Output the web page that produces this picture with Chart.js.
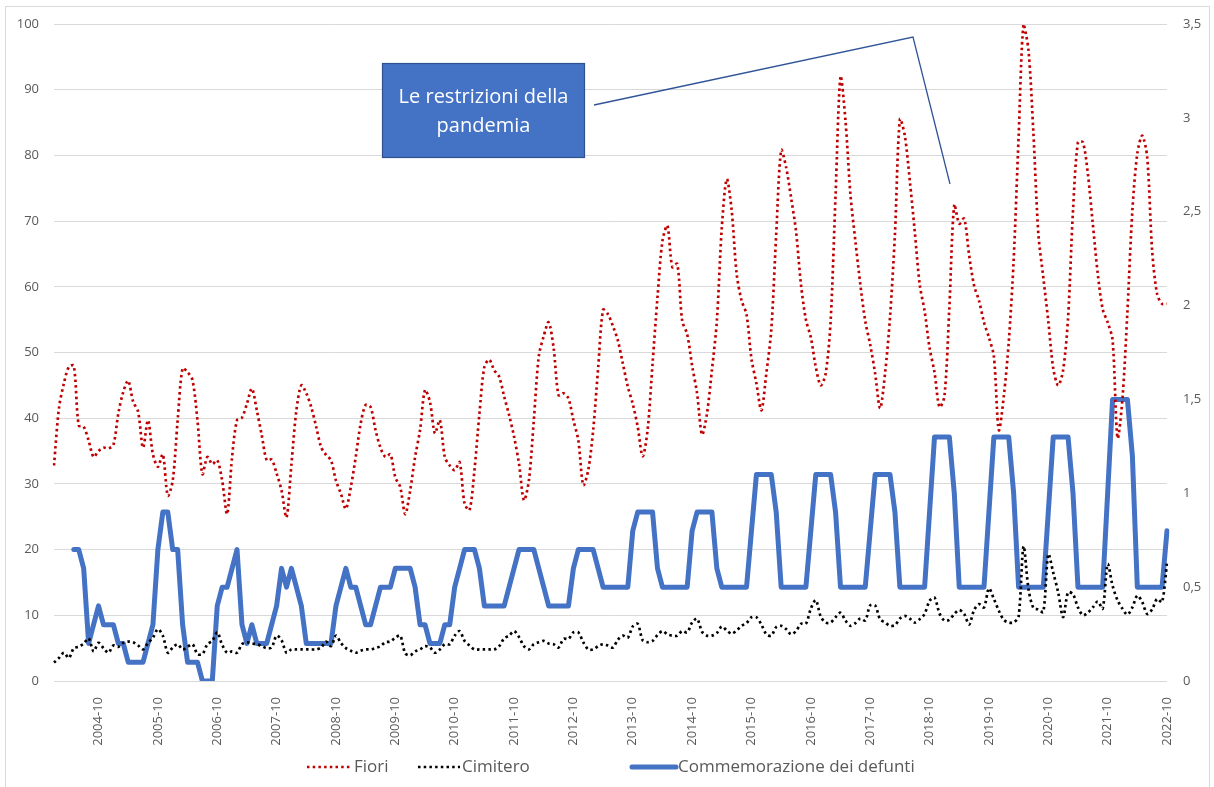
<!DOCTYPE html>
<html>
<head>
<meta charset="utf-8">
<script src="https://cdn.jsdelivr.net/npm/chart.js@4.4.0/dist/chart.umd.min.js"></script>
<style>
  html, body { margin: 0; padding: 0; background: #fff; }
  #wrap { width: 1214px; height: 787px; }
</style>
</head>
<body>
<div id="wrap"><canvas id="chart" width="1214" height="787"></canvas></div>
<script>
// months from 2004-01 to 2022-10
const months = [];
for (let y = 2004; y <= 2022; y++) {
    for (let m = 1; m <= 12; m++) {
        if (y === 2022 && m > 10) break;
        months.push(y + '-' + String(m).padStart(2, '0'));
    }
}

const tickLabels = ['2004-10', '2005-10', '2006-10', '2007-10', '2008-10', '2009-10', '2010-10',
    '2011-10', '2012-10', '2013-10', '2014-10', '2015-10', '2016-10', '2017-10', '2018-10',
    '2019-10', '2020-10', '2021-10', '2022-10'];

const fiori = [
    32.8, 41.5, 45.3, 47.8, 48.0, 38.9, 38.7, 36.6, 34.1, 35.0, 35.5, 35.4,
    35.9, 40.7, 44.0, 45.7, 42.5, 41.0, 35.5, 39.7, 34.5, 32.6, 34.5, 28.2,
    30.5, 39.7, 47.6, 47.0, 45.8, 39.7, 31.5, 34.1, 33.0, 33.6, 30.5, 25.4,
    34.1, 39.7, 40.1, 42.2, 44.5, 41.2, 37.4, 33.6, 33.7, 31.6, 29.0, 24.9,
    33.0, 41.2, 45.0, 43.8, 41.7, 38.7, 35.6, 34.4, 33.6, 30.5, 28.5, 26.2,
    29.5, 34.1, 39.2, 42.0, 41.7, 38.2, 35.5, 34.1, 34.5, 31.0, 29.5, 25.4,
    29.0, 34.1, 38.2, 44.3, 42.5, 37.7, 39.7, 34.1, 32.8, 32.1, 33.3, 27.0,
    26.0, 32.1, 40.7, 47.8, 48.9, 47.3, 46.3, 43.3, 40.5, 37.2, 33.1, 27.5,
    30.5, 39.7, 49.4, 52.5, 54.6, 50.7, 43.5, 43.8, 43.0, 39.7, 36.6, 29.8,
    32.1, 38.2, 47.6, 56.5, 55.8, 54.0, 51.8, 48.3, 44.8, 42.2, 38.7, 34.2,
    38.2, 48.3, 58.4, 67.0, 69.3, 63.0, 63.5, 54.8, 52.8, 48.0, 43.8, 37.5,
    40.7, 47.3, 54.8, 69.0, 76.4, 71.6, 62.0, 57.9, 55.8, 49.0, 45.3, 41.2,
    46.8, 53.4, 68.0, 80.8, 78.2, 73.6, 68.5, 60.4, 55.0, 52.3, 47.8, 45.0,
    46.8, 54.8, 74.0, 92.0, 85.3, 74.1, 67.0, 60.4, 54.8, 51.2, 46.8, 41.5,
    46.8, 55.3, 68.0, 85.5, 83.0, 76.2, 68.5, 60.4, 56.3, 50.7, 47.0, 41.7,
    43.3, 56.8, 72.5, 69.6, 70.4, 64.8, 60.2, 57.9, 54.6, 52.3, 49.4, 38.2,
    43.3, 51.5, 64.0, 82.8, 100, 96.0, 83.3, 68.0, 61.4, 54.8, 47.6, 45.0,
    47.3, 55.3, 71.6, 82.0, 82.0, 77.2, 69.6, 62.0, 56.6, 54.6, 51.9, 37.0,
    43.0, 56.3, 71.6, 80.3, 83.0, 79.7, 65.5, 58.9, 57.4, 57.4
];

const cimitero = [
    2.8, 3.5, 4.3, 3.5, 5.0, 5.2, 5.7, 6.5, 4.5, 5.8, 5.0, 4.3,
    5.4, 5.2, 5.8, 6.0, 5.9, 5.4, 4.8, 5.8, 6.6, 7.9, 6.9, 4.3,
    5.1, 5.6, 4.8, 5.2, 5.6, 4.1, 4.1, 5.6, 6.1, 7.4, 5.5, 4.3,
    4.5, 4.3, 5.6, 5.9, 5.7, 5.6, 5.3, 5.0, 5.1, 6.9, 6.2, 4.3,
    4.8, 4.8, 4.8, 4.8, 4.8, 4.8, 5.1, 6.0, 5.3, 6.9, 5.8, 5.0,
    4.6, 4.3, 4.6, 4.8, 4.8, 5.0, 5.3, 5.9, 6.0, 6.6, 6.9, 4.2,
    3.9, 4.5, 4.8, 5.3, 5.1, 4.3, 4.8, 5.6, 5.6, 6.9, 7.6, 6.1,
    5.4, 4.8, 4.8, 4.8, 4.8, 4.8, 5.3, 6.5, 6.9, 7.6, 6.7, 5.3,
    4.8, 5.6, 5.9, 6.1, 5.7, 5.6, 5.1, 6.4, 6.4, 7.4, 7.4, 5.9,
    4.8, 4.8, 5.3, 5.6, 5.4, 5.1, 6.3, 6.9, 6.6, 8.3, 8.7, 6.2,
    5.9, 6.1, 7.0, 7.6, 7.1, 6.9, 6.9, 7.6, 7.4, 8.9, 9.5, 7.5,
    6.9, 6.9, 7.3, 8.3, 7.7, 7.2, 7.7, 8.4, 8.8, 9.7, 9.7, 8.6,
    7.1, 6.9, 8.2, 8.4, 7.9, 7.1, 7.6, 8.7, 8.7, 11.0, 12.3, 9.8,
    8.9, 8.9, 9.7, 10.4, 9.2, 8.4, 8.8, 9.5, 9.2, 11.5, 11.5, 9.4,
    8.9, 8.4, 8.5, 9.5, 9.9, 9.5, 8.9, 9.4, 10.2, 12.2, 12.7, 10.3,
    9.2, 9.3, 10.2, 10.8, 10.2, 8.6, 10.8, 11.7, 11.2, 14.1, 12.5, 10.7,
    9.3, 8.9, 8.9, 9.8, 20.5, 14.0, 11.1, 10.9, 10.5, 19.3, 16.5, 13.5,
    9.7, 13.5, 13.2, 11.2, 10.0, 10.4, 11.2, 12.1, 11.0, 17.8, 14.5, 12.3,
    11.0, 10.1, 11.2, 13.0, 12.0, 10.2, 10.9, 12.5, 12.0, 18.0
];

// right axis
const commemorazione = [
    null, null, null, null, 0.7, 0.7, 0.6, 0.2, 0.3, 0.4, 0.3, 0.3,
    0.3, 0.2, 0.2, 0.1, 0.1, 0.1, 0.1, 0.2, 0.3, 0.7, 0.9, 0.9,
    0.7, 0.7, 0.3, 0.1, 0.1, 0.1, 0, 0, 0, 0.4, 0.5, 0.5,
    0.6, 0.7, 0.3, 0.2, 0.3, 0.2, 0.2, 0.2, 0.3, 0.4, 0.6, 0.5,
    0.6, 0.5, 0.4, 0.2, 0.2, 0.2, 0.2, 0.2, 0.2, 0.4, 0.5, 0.6,
    0.5, 0.5, 0.4, 0.3, 0.3, 0.4, 0.5, 0.5, 0.5, 0.6, 0.6, 0.6,
    0.6, 0.5, 0.3, 0.3, 0.2, 0.2, 0.2, 0.3, 0.3, 0.5, 0.6, 0.7,
    0.7, 0.7, 0.6, 0.4, 0.4, 0.4, 0.4, 0.4, 0.5, 0.6, 0.7, 0.7,
    0.7, 0.7, 0.6, 0.5, 0.4, 0.4, 0.4, 0.4, 0.4, 0.6, 0.7, 0.7,
    0.7, 0.7, 0.6, 0.5, 0.5, 0.5, 0.5, 0.5, 0.5, 0.8, 0.9, 0.9,
    0.9, 0.9, 0.6, 0.5, 0.5, 0.5, 0.5, 0.5, 0.5, 0.8, 0.9, 0.9,
    0.9, 0.9, 0.6, 0.5, 0.5, 0.5, 0.5, 0.5, 0.5, 0.8, 1.1, 1.1,
    1.1, 1.1, 0.9, 0.5, 0.5, 0.5, 0.5, 0.5, 0.5, 0.8, 1.1, 1.1,
    1.1, 1.1, 0.9, 0.5, 0.5, 0.5, 0.5, 0.5, 0.5, 0.8, 1.1, 1.1,
    1.1, 1.1, 0.9, 0.5, 0.5, 0.5, 0.5, 0.5, 0.5, 0.9, 1.3, 1.3,
    1.3, 1.3, 1.0, 0.5, 0.5, 0.5, 0.5, 0.5, 0.5, 0.9, 1.3, 1.3,
    1.3, 1.3, 1.0, 0.5, 0.5, 0.5, 0.5, 0.5, 0.5, 0.9, 1.3, 1.3,
    1.3, 1.3, 1.0, 0.5, 0.5, 0.5, 0.5, 0.5, 0.5, 1.0, 1.5, 1.5,
    1.5, 1.5, 1.2, 0.5, 0.5, 0.5, 0.5, 0.5, 0.5, 0.8
];

const FONT = "'Open Sans', 'Liberation Sans', sans-serif";
const GREY = '#595959';

// box, callout and legend drawn on the canvas
const extras = {
    id: 'extras',
    beforeDraw(chart) {
        const ctx = chart.ctx;
        ctx.save();
        ctx.fillStyle = '#fff';
        ctx.fillRect(0, 0, chart.width, chart.height);
        ctx.strokeStyle = '#d9d9d9';
        ctx.lineWidth = 1;
        ctx.strokeRect(5.5, 6.5, 1204, 790);
        ctx.restore();
    },
    afterDraw(chart) {
        const ctx = chart.ctx;
        ctx.save();

        // callout line
        ctx.strokeStyle = '#2F5597';
        ctx.lineWidth = 1.3;
        ctx.beginPath();
        ctx.moveTo(594, 105);
        ctx.lineTo(913, 37);
        ctx.lineTo(950, 184);
        ctx.stroke();

        // text box
        ctx.fillStyle = '#4472C4';
        ctx.fillRect(382, 63, 203, 95);
        ctx.strokeStyle = '#2F528F';
        ctx.lineWidth = 1.2;
        ctx.strokeRect(382.5, 63.5, 202, 94);
        ctx.fillStyle = '#fff';
        ctx.font = '20px ' + FONT;
        ctx.textAlign = 'center';
        ctx.textBaseline = 'middle';
        ctx.fillText('Le restrizioni della', 483.5, 97);
        ctx.fillText('pandemia', 483.5, 126);

        // legend
        const ly = 767;
        const items = [
            { ds: 0, x0: 307, x1: 350, tx: 354 },
            { ds: 1, x0: 418, x1: 460, tx: 462 },
            { ds: 2, x0: 632, x1: 676, tx: 678 }
        ];
        ctx.textAlign = 'left';
        ctx.font = '17px ' + FONT;
        items.forEach(it => {
            const ds = chart.data.datasets[it.ds];
            ctx.strokeStyle = ds.borderColor;
            ctx.lineWidth = ds.borderWidth;
            ctx.setLineDash(ds.borderDash || []);
            ctx.lineCap = ds.borderDash ? 'butt' : 'round';
            ctx.beginPath();
            ctx.moveTo(it.x0, ly);
            ctx.lineTo(it.x1, ly);
            ctx.stroke();
            ctx.setLineDash([]);
            ctx.fillStyle = GREY;
            ctx.fillText(ds.label, it.tx, ly);
        });
        ctx.restore();
    }
};

new Chart(document.getElementById('chart'), {
    type: 'line',
    data: {
        labels: months,
        datasets: [
            {
                label: 'Fiori',
                data: fiori,
                borderColor: '#C00000',
                borderWidth: 2.7,
                borderDash: [2.5, 3.2],
                pointRadius: 0,
                tension: 0.3,
                yAxisID: 'y'
            },
            {
                label: 'Cimitero',
                data: cimitero,
                borderColor: '#000000',
                borderWidth: 2.7,
                borderDash: [2.5, 3.2],
                pointRadius: 0,
                tension: 0.3,
                yAxisID: 'y'
            },
            {
                label: 'Commemorazione dei defunti',
                data: commemorazione,
                borderColor: '#4472C4',
                borderWidth: 5,
                pointRadius: 0,
                tension: 0,
                borderJoinStyle: 'round',
                borderCapStyle: 'round',
                yAxisID: 'y1'
            }
        ]
    },
    options: {
        responsive: false,
        animation: false,
        layout: { padding: { top: 24, bottom: 42, left: 0, right: 0 } },
        plugins: {
            legend: { display: false },
            tooltip: { enabled: false }
        },
        scales: {
            x: {
                grid: { display: false },
                border: { display: false },
                ticks: {
                    autoSkip: false,
                    minRotation: 90,
                    maxRotation: 90,
                    padding: 8,
                    color: GREY,
                    font: { family: FONT, size: 13 },
                    callback: (v, i) => tickLabels.includes(months[i]) ? months[i] : ''
                },
                afterFit: s => { s.height = 64; }
            },
            y: {
                position: 'left',
                min: 0,
                max: 100,
                grid: { color: '#D9D9D9', drawTicks: false },
                border: { display: false },
                ticks: {
                    stepSize: 10,
                    padding: 15,
                    color: GREY,
                    font: { family: FONT, size: 13 }
                },
                afterFit: s => { s.width = 54; }
            },
            y1: {
                position: 'right',
                min: 0,
                max: 3.5,
                grid: { drawOnChartArea: false, drawTicks: false },
                border: { display: false },
                ticks: {
                    stepSize: 0.5,
                    padding: 16,
                    color: GREY,
                    font: { family: FONT, size: 13 },
                    callback: v => String(v).replace('.', ',')
                },
                afterFit: s => { s.width = 47; }
            }
        }
    },
    plugins: [extras]
});
</script>
</body>
</html>
